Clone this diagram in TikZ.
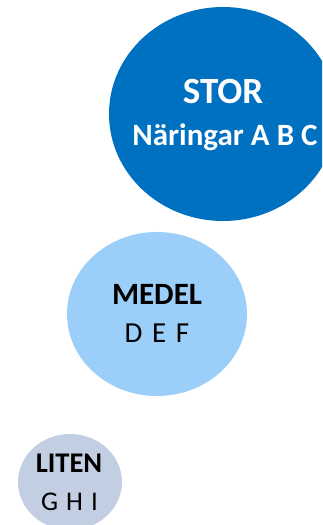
\documentclass[tikz,border=0pt]{standalone}
\usepackage{fontspec}
\setmainfont{Carlito}
\usetikzlibrary{shapes.geometric}
\definecolor{storblue}{HTML}{0070C0}
\definecolor{medelblue}{HTML}{9BCFFA}
\definecolor{litengray}{HTML}{C2CEE2}
\tikzset{
  blob/.style={ellipse, inner sep=0pt, draw=none},
  lbl/.style={anchor=base, inner sep=0pt},
}
\begin{document}
\begin{tikzpicture}[x=1pt,y=1pt]
\useasboundingbox (0,0) rectangle (322,525);
\begin{scope}
\clip (0,0) rectangle (322,525);
\node[blob, fill=storblue, minimum width=228pt, minimum height=214pt] (stor) at (223,411) {};
\node[blob, fill=medelblue, minimum width=180pt, minimum height=164pt] (medel) at (157,211) {};
\node[blob, fill=litengray, minimum width=104pt, minimum height=96pt] (liten) at (70,43) {};
\end{scope}
\node[lbl, text=white, font=\fontsize{37}{42}\selectfont\bfseries] (storT) at (223,421) {STOR};
\node[lbl, text=white, font=\fontsize{31}{36}\selectfont\bfseries] (storS) at (225,379.5) {Näringar A B C};
\node[lbl, text=black, font=\fontsize{31}{36}\selectfont\bfseries] (medelT) at (157,220) {MEDEL};
\node[lbl, text=black, font=\fontsize{29}{34}\selectfont] (medelS) at (157,182) {D\,\,E\,\,F};
\node[lbl, text=black, font=\fontsize{28.5}{33}\selectfont\bfseries] (litenT) at (69,52) {LITEN};
\node[lbl, text=black, font=\fontsize{27}{32}\selectfont] (litenS) at (69.5,15) {G \kern2ptH \kern2ptI};
\end{tikzpicture}
\end{document}
